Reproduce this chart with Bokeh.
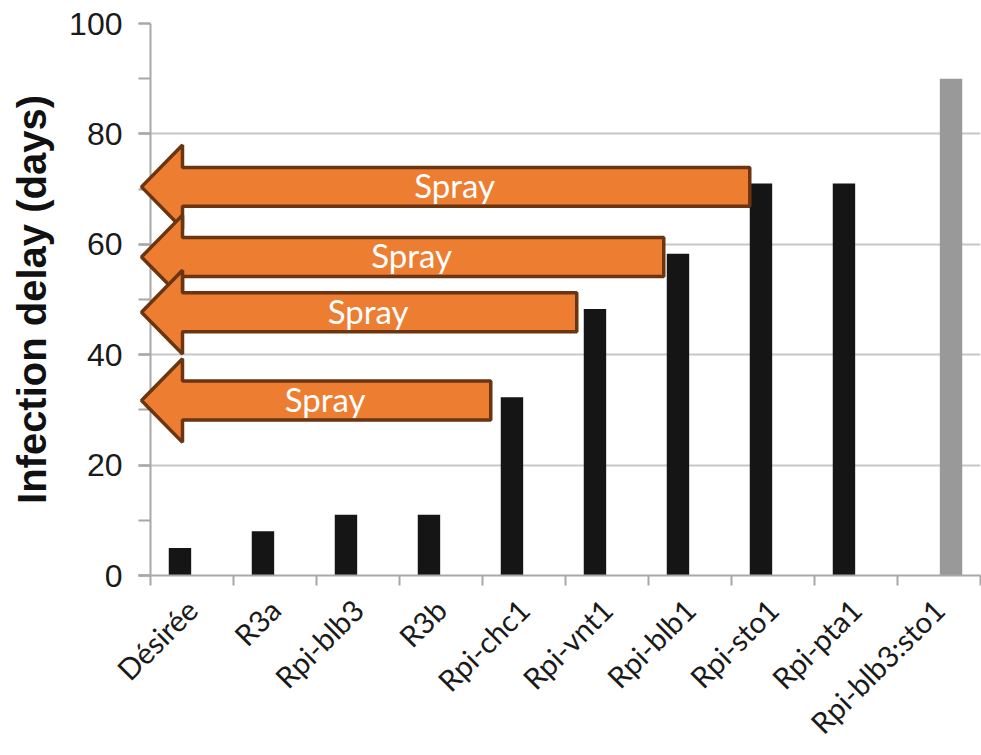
import numpy as np
from bokeh.plotting import figure
from bokeh.models import (Range1d, FixedTicker, SingleIntervalTicker, Span,
                          PolyAnnotation, LabelSet, ColumnDataSource)
from bokeh.core.properties import value
from bokeh.embed import file_html
from bokeh.resources import INLINE

# ---------------- data ----------------
categories = ["Désirée", "R3a", "Rpi-blb3", "R3b", "Rpi-chc1",
              "Rpi-vnt1", "Rpi-blb1", "Rpi-sto1", "Rpi-pta1", "Rpi-blb3:sto1"]
single_gene_cats = ["Désirée", "R3a", "Rpi-blb3", "R3b", "Rpi-chc1",
                    "Rpi-vnt1", "Rpi-blb1", "Rpi-sto1", "Rpi-pta1"]
single_gene_delay = [5, 8, 11, 11, 32.3, 48.3, 58.3, 71, 71]
stacked_cats = ["Rpi-blb3:sto1"]
stacked_delay = [90]
spray_targets = ["Rpi-sto1", "Rpi-blb1", "Rpi-vnt1", "Rpi-chc1"]
spray_text = ["Spray", "Spray", "Spray", "Spray"]
y_title = "Infection delay (days)"

# ---------------- layout constants ----------------
W, H = 981, 755
PAD = 12                 # frame extends this far left of the value axis
XU = 83.0                # px per category
ML, MT, MB = 150 - PAD, 23, 178
FW = int(10 * XU + PAD)
FH = H - MT - MB
YU = FH / 100.0
BAR_W = 0.27
OFF = 0.145
arrow_gap_px = [0, 3, 7, 10]

idx = {c: i for i, c in enumerate(categories)}
x0 = -0.5 - PAD / XU

p = figure(width=W, height=H, x_range=Range1d(x0, 9.5), y_range=Range1d(0, 100),
           output_backend="svg", toolbar_location=None,
           min_border_left=ML, min_border_right=W - ML - FW, min_border_top=MT,
           min_border_bottom=MB)
p.outline_line_color = None
p.background_fill_color = "white"
p.border_fill_color = "white"

# bars
src1 = ColumnDataSource(dict(x=[idx[c] - OFF for c in single_gene_cats], top=single_gene_delay))
src2 = ColumnDataSource(dict(x=[idx[c] + OFF for c in stacked_cats], top=stacked_delay))
p.vbar(x="x", top="top", width=BAR_W, source=src1, fill_color="#151515", line_color=None)
p.vbar(x="x", top="top", width=BAR_W, source=src2, fill_color="#999999", line_color=None)

# y axis (ticks drawn inward from the frame edge, value-axis line as a span)
AX = "#a8a8a8"
yticker = SingleIntervalTicker(interval=20, num_minor_ticks=2)
p.yaxis.ticker = yticker
p.ygrid.ticker = yticker
p.ygrid.grid_line_color = "#c8c8c8"
p.ygrid.grid_line_width = 2
p.xgrid.visible = False
yax = p.yaxis[0]
yax.axis_line_color = None
yax.major_tick_line_color = AX
yax.minor_tick_line_color = AX
yax.major_tick_line_width = 2
yax.minor_tick_line_width = 2
yax.major_tick_out = 0
yax.major_tick_in = PAD
yax.minor_tick_out = 0
yax.minor_tick_in = PAD
yax.major_label_text_font = "Liberation Sans"
yax.major_label_text_font_size = "32px"
yax.major_label_text_color = "#1a1a1a"
yax.major_label_standoff = 16
yax.axis_label = y_title
yax.axis_label_text_font = "Liberation Sans"
yax.axis_label_text_font_size = "40px"
yax.axis_label_text_font_style = "bold"
yax.axis_label_text_color = "#111111"
yax.axis_label_standoff = 12
p.add_layout(Span(location=-0.5, dimension="height", line_color=AX, line_width=2))

# x axis
xax = p.xaxis[0]
xax.ticker = FixedTicker(ticks=list(range(len(categories))),
                         minor_ticks=[i - 0.5 for i in range(len(categories) + 1)])
xax.major_label_overrides = {i: c for i, c in enumerate(categories)}
xax.major_label_orientation = np.pi / 4
xax.major_label_text_font = "Lato"
xax.major_label_text_font_size = "29.5px"
xax.major_label_text_color = "#1a1a1a"
xax.major_label_standoff = 19
xax.major_tick_line_color = None
xax.major_tick_out = 10
xax.major_tick_in = 0
xax.minor_tick_line_color = AX
xax.minor_tick_line_width = 2
xax.minor_tick_out = 10
xax.minor_tick_in = 0
xax.axis_line_color = AX
xax.axis_line_width = 2

# spray arrows (derived from bar positions/heights)
val = dict(zip(single_gene_cats, single_gene_delay))
tip_x = -0.5 - 9 / XU
neck_x = tip_x + 41 / XU
body = 19.5 / YU
head = 42 / YU
lab_x, lab_y = [], []
for tgt, gap in zip(spray_targets, arrow_gap_px):
    end_x = idx[tgt] - OFF - BAR_W / 2 - gap / XU
    yc = val[tgt] - 0.6
    xs = [tip_x, neck_x, neck_x, end_x, end_x, neck_x, neck_x]
    ys = [yc, yc + head, yc + body, yc + body, yc - body, yc - body, yc - head]
    p.add_layout(PolyAnnotation(xs=xs, ys=ys, fill_color="#ED7D31", fill_alpha=1.0,
                                line_color="#6A3510", line_width=3.5, line_alpha=1.0))
    lab_x.append((tip_x + end_x) / 2 + 9 / XU)
    lab_y.append(yc + 0.3)

lsrc = ColumnDataSource(dict(x=lab_x, y=lab_y, t=spray_text))
p.add_layout(LabelSet(x="x", y="y", text="t", source=lsrc, text_align="center",
                      text_baseline="middle", text_font=value("Lato"),
                      text_font_size=value("33px"), text_color=value("white")))

open("out.html", "w").write(file_html(p, INLINE))
